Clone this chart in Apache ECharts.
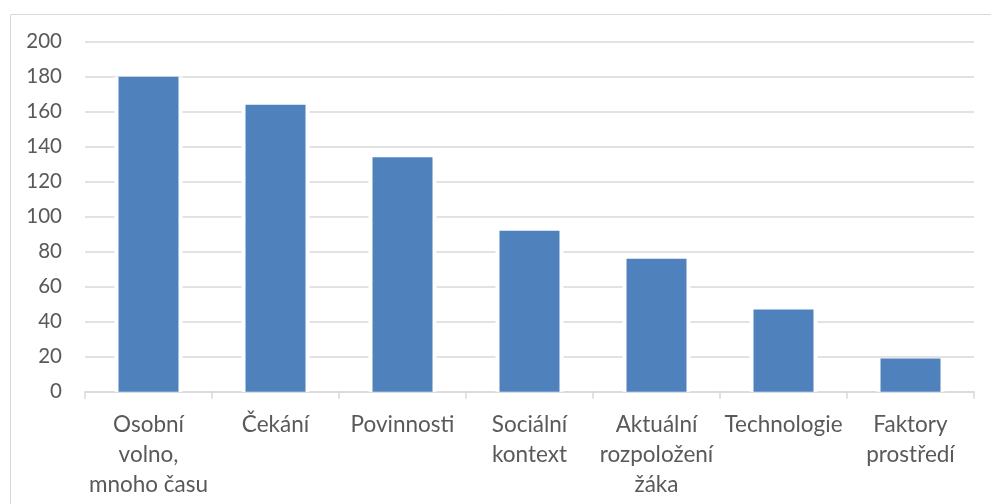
<!DOCTYPE html>
<html>
<head>
<meta charset="utf-8">
<script src="https://cdn.jsdelivr.net/npm/echarts@6/dist/echarts.min.js"></script>
<style>
  html, body { margin: 0; padding: 0; background: #fff; }
  #chart { width: 991px; height: 504px; }
</style>
</head>
<body>
<div id="chart"></div>
<script>
// kategorie (osa x)
const categories = [
    'Osobní\nvolno,\nmnoho času',
    'Čekání',
    'Povinnosti',
    'Sociální\nkontext',
    'Aktuální\nrozpoložení\nžáka',
    'Technologie',
    'Faktory\nprostředí'
];
// hodnoty sloupců
const values = [180, 164, 134, 92, 76, 47, 19];
// osa y
const yMin = 0;
const yMax = 200;
const yStep = 20;

const textColor = '#595959';
const lineColor = '#d9d9d9';
const font = 'Lato, "Open Sans", sans-serif';

let chart = echarts.init(document.getElementById('chart'), null, {renderer: 'canvas'});

let option = {
    animation: false,
    backgroundColor: '#fff',
    graphic: [{
        // rámeček grafu
        type: 'rect',
        left: 8,
        top: 12,
        shape: {width: 1000, height: 520},
        style: {fill: 'none', stroke: lineColor, lineWidth: 1},
        silent: true
    }],
    grid: {
        left: 85,
        right: 17,
        top: 41.7,
        bottom: 112.3
    },
    xAxis: [{
        type: 'category',
        data: categories,
        axisLine: {lineStyle: {color: lineColor, width: 1.5}},
        axisTick: {show: true, length: 7, lineStyle: {color: lineColor, width: 1.5}},
        axisLabel: {
            color: textColor,
            fontSize: 22.5,
            fontFamily: font,
            lineHeight: 30,
            margin: 18,
            interval: 0
        }
    }, {
        // pomocná osa pro bílý lem sloupců
        type: 'category',
        data: categories,
        show: false
    }],
    yAxis: {
        type: 'value',
        min: yMin,
        max: yMax,
        interval: yStep,
        axisLine: {show: false},
        axisTick: {show: false},
        splitLine: {lineStyle: {color: lineColor, width: 1.5}},
        axisLabel: {
            color: textColor,
            fontSize: 20.5,
            fontFamily: font,
            margin: 23
        }
    },
    series: [{
        // bílý lem
        type: 'bar',
        xAxisIndex: 1,
        data: values,
        barWidth: 68,
        itemStyle: {color: '#fff'},
        silent: true,
        z: 2
    }, {
        type: 'bar',
        xAxisIndex: 0,
        data: values,
        barWidth: 60,
        itemStyle: {color: '#4f81bd'},
        z: 3
    }]
};
chart.setOption(option);
</script>
</body>
</html>
